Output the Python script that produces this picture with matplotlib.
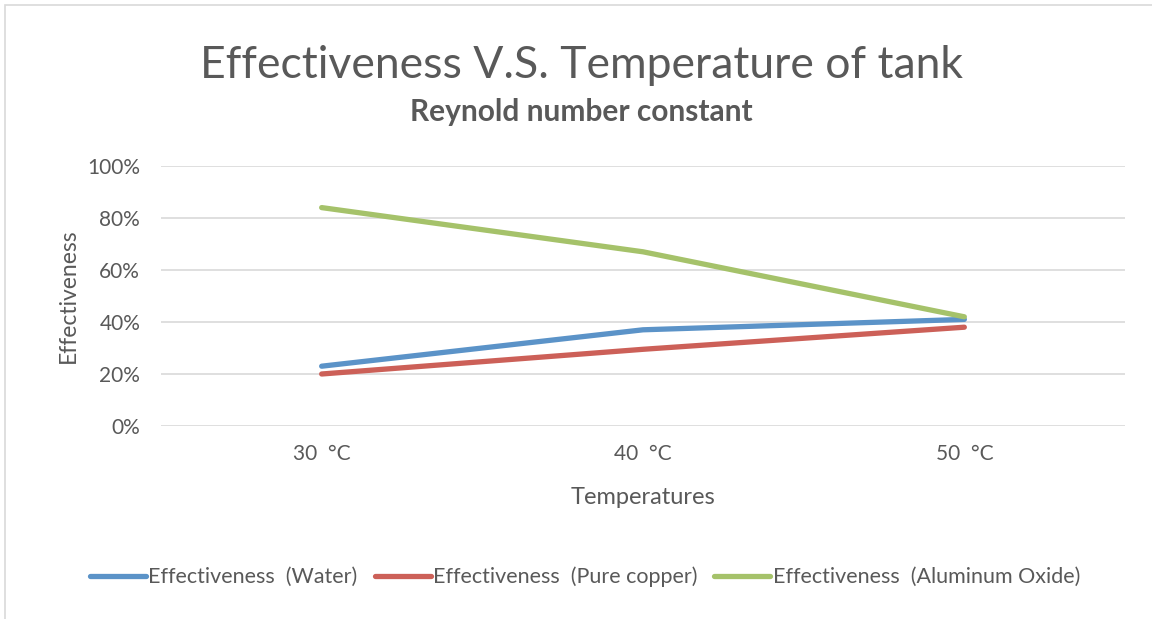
import matplotlib.pyplot as plt
from matplotlib.patches import Rectangle

plt.rcParams['font.family'] = ['Lato', 'DejaVu Sans']

temps = ['30  °C', '40  °C', '50  °C']
water = [23, 37, 41]
copper = [20, 29.5, 38]
alox = [84, 67, 42]

txt = '#595959'

fig = plt.figure(figsize=(11.52, 6.19), dpi=100)
ax = fig.add_axes([161 / 1152, 1 - 426 / 619, (1125 - 161) / 1152, 260 / 619])

x = range(len(temps))
ax.plot(x, water, color='#5b93c8', lw=3.8, solid_capstyle='round', label='Effectiveness  (Water)')
ax.plot(x, copper, color='#cc6058', lw=3.8, solid_capstyle='round', label='Effectiveness  (Pure copper)')
ax.plot(x, alox, color='#a5c26a', lw=3.8, solid_capstyle='round', label='Effectiveness  (Aluminum Oxide)')

ax.set_xlim(-0.5, 2.5)
ax.set_ylim(0, 100)
ax.set_yticks(range(0, 101, 20))
ax.set_yticklabels([f'{v}%' for v in range(0, 101, 20)])
ax.set_xticks(list(x))
ax.set_xticklabels(temps)
ax.tick_params(length=0, colors=txt, labelsize=15)
ax.tick_params(axis='y', pad=15)
ax.tick_params(axis='x', pad=13)
ax.grid(axis='y', color='#d9d9d9', lw=1.2)
ax.set_axisbelow(True)
for s in ax.spines.values():
    s.set_visible(False)

ax.set_ylabel('Effectiveness', color=txt, fontsize=16.5, labelpad=6)
fig.text(643 / 1152, 1 - 497 / 619, 'Temperatures', color=txt, fontsize=17, ha='center', va='center')

fig.text(582 / 1152, 1 - 66 / 619, 'Effectiveness V.S. Temperature of tank', color=txt,
         fontsize=32, ha='center', va='center')
fig.text(581 / 1152, 1 - 112 / 619, 'Reynold number constant', color=txt,
         fontsize=21.5, fontweight='bold', ha='center', va='center')

fig.legend(loc='center', bbox_to_anchor=(585 / 1152, 1 - 577 / 619), ncol=3, frameon=False,
           fontsize=15.5, labelcolor=txt, handlelength=2.6, handletextpad=0.1, columnspacing=0.8)

fig.patches.append(Rectangle((5 / 1152, -0.1), 1.2, 1 - 5 / 619 + 0.1, transform=fig.transFigure,
                             fill=False, edgecolor='#d9d9d9', lw=1.2))

fig.savefig('out.png', dpi=100)
